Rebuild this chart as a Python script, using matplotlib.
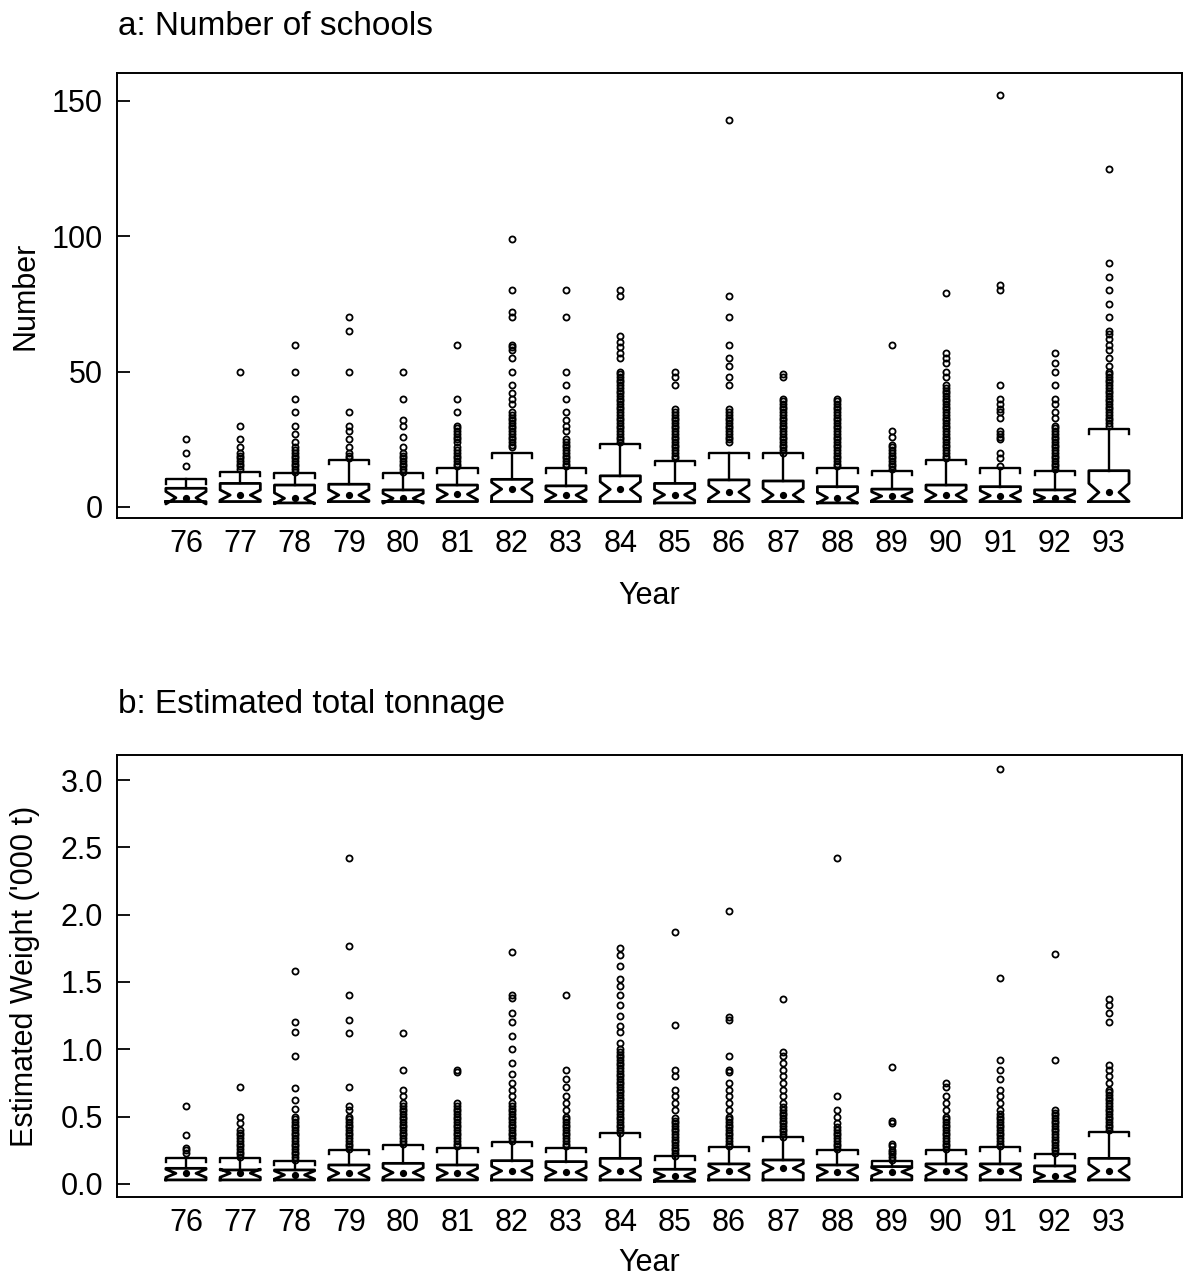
import matplotlib
matplotlib.use("Agg")
import matplotlib.pyplot as plt

plt.rcParams["font.family"] = ["Liberation Sans", "DejaVu Sans"]
plt.rcParams["font.size"] = 22

years = [76, 77, 78, 79, 80, 81, 82, 83, 84, 85, 86, 87, 88, 89, 90, 91, 92, 93]

# panel a: number of schools
a_q1 = [2, 2, 1.5, 2, 2, 2, 2, 2, 2, 1.5, 2, 2, 1.5, 2, 2, 2, 2, 2]
a_med = [3.4, 4.4, 3.2, 4.4, 3.2, 4.7, 6.6, 4.4, 6.5, 4.5, 5.5, 4.4, 3.4, 4.0, 4.4, 4.2, 3.4, 5.4]
a_q3 = [6.9, 8.7, 8.1, 8.4, 6.3, 8.1, 10.2, 7.8, 11.5, 8.7, 10.0, 9.6, 7.5, 6.6, 8.1, 7.5, 6.3, 13.4]
a_cap = [10.2, 13.0, 12.4, 17.4, 12.4, 14.3, 19.8, 14.3, 23.3, 17.1, 19.8, 19.8, 14.3, 13.3, 17.4, 14.3, 13.4, 28.7]
a_notch = [2.3, 1.9, 2.0, 2.0, 1.8, 2.0, 2.5, 2.0, 2.8, 2.0, 2.5, 2.5, 2.0, 1.6, 2.0, 1.8, 1.5, 3.3]
a_fliers = [
    [15, 20, 25],
    [14, 15, 16, 17, 18, 19, 20, 22, 25, 30, 50],
    [13, 14, 15, 16, 17, 18, 19, 20, 21, 22, 24, 27, 30, 35, 40, 50, 60],
    [18, 19, 20, 22, 25, 28, 30, 35, 50, 65, 70],
    [13, 14, 15, 16, 17, 18, 19, 20, 22, 26, 30, 32, 40, 50],
    [15, 16, 17, 18, 19, 20, 21, 22, 24, 25, 26, 27, 28, 29, 30, 35, 40, 60],
    [22, 23, 24, 25, 26, 27, 28, 29, 30, 31, 32, 33, 34, 35, 38, 40, 42, 45, 50,
     55, 58, 59, 60, 70, 72, 80, 99],
    [15, 16, 17, 18, 19, 20, 21, 22, 23, 24, 25, 28, 30, 32, 35, 40, 45, 50, 70, 80],
    [24, 25, 26, 27, 28, 29, 30, 31, 32, 33, 34, 35, 36, 37, 38, 39, 40, 41, 42,
     43, 44, 45, 46, 47, 48, 49, 50, 55, 57, 59, 61, 63, 78, 80],
    [18, 19, 20, 21, 22, 23, 24, 25, 26, 27, 28, 29, 30, 31, 32, 33, 34, 35, 36,
     45, 48, 50],
    [24, 25, 26, 27, 28, 29, 30, 31, 32, 33, 34, 35, 36, 45, 48, 52, 55, 60, 70,
     78, 143],
    [20, 21, 22, 23, 24, 25, 26, 27, 28, 29, 30, 31, 32, 33, 34, 35, 36, 37, 38,
     39, 40, 48, 49],
    [15, 16, 17, 18, 19, 20, 21, 22, 23, 24, 25, 26, 27, 28, 29, 30, 31, 32, 33,
     34, 35, 36, 37, 38, 39, 40],
    [14, 15, 16, 17, 18, 19, 20, 21, 22, 23, 26, 28, 60],
    [18, 19, 20, 21, 22, 23, 24, 25, 26, 27, 28, 29, 30, 31, 32, 33, 34, 35, 36,
     37, 38, 39, 40, 41, 42, 43, 44, 45, 48, 50, 53, 55, 57, 79],
    [15, 18, 20, 25, 26, 27, 28, 33, 35, 36, 38, 40, 45, 80, 82, 152],
    [14, 15, 16, 17, 18, 19, 20, 21, 22, 23, 24, 25, 26, 27, 28, 29, 30, 33, 35,
     38, 40, 45, 50, 53, 57],
    [30, 31, 32, 33, 34, 35, 36, 37, 38, 39, 40, 41, 42, 43, 44, 45, 46, 47, 48,
     49, 50, 52, 55, 58, 60, 62, 64, 65, 70, 75, 80, 85, 90, 125],
]

# panel b: estimated total tonnage ('000 t)
b_q1 = [0.03, 0.03, 0.03, 0.03, 0.03, 0.03, 0.03, 0.03, 0.03, 0.02, 0.03, 0.03,
        0.03, 0.03, 0.03, 0.03, 0.02, 0.03]
b_med = [0.079, 0.08, 0.067, 0.08, 0.084, 0.08, 0.097, 0.087, 0.097, 0.06, 0.099,
         0.116, 0.09, 0.09, 0.097, 0.099, 0.06, 0.097]
b_q3 = [0.116, 0.104, 0.104, 0.141, 0.153, 0.141, 0.173, 0.166, 0.19, 0.109, 0.149,
        0.178, 0.141, 0.129, 0.149, 0.149, 0.134, 0.19]
b_cap = [0.19, 0.19, 0.17, 0.25, 0.29, 0.265, 0.31, 0.27, 0.376, 0.208, 0.277,
         0.35, 0.25, 0.171, 0.25, 0.277, 0.223, 0.388]
b_notch = [0.03, 0.03, 0.03, 0.035, 0.035, 0.035, 0.035, 0.035, 0.04, 0.03, 0.035,
           0.035, 0.035, 0.03, 0.035, 0.035, 0.03, 0.05]
b_fliers = [
    [0.23, 0.25, 0.27, 0.36, 0.58],
    [0.20, 0.22, 0.24, 0.26, 0.28, 0.30, 0.32, 0.34, 0.36, 0.38, 0.40, 0.45, 0.50,
     0.72],
    [0.18, 0.20, 0.22, 0.24, 0.26, 0.28, 0.30, 0.32, 0.34, 0.36, 0.38, 0.40, 0.42,
     0.44, 0.46, 0.48, 0.50, 0.56, 0.62, 0.71, 0.95, 1.13, 1.20, 1.58],
    [0.26, 0.28, 0.30, 0.32, 0.34, 0.36, 0.38, 0.40, 0.42, 0.44, 0.46, 0.48, 0.50,
     0.55, 0.58, 0.72, 1.12, 1.22, 1.40, 1.77, 2.42],
    [0.30, 0.32, 0.34, 0.36, 0.38, 0.40, 0.42, 0.44, 0.46, 0.48, 0.50, 0.52, 0.54,
     0.56, 0.58, 0.60, 0.65, 0.70, 0.85, 1.12],
    [0.28, 0.30, 0.32, 0.34, 0.36, 0.38, 0.40, 0.42, 0.44, 0.46, 0.48, 0.50, 0.52,
     0.54, 0.56, 0.58, 0.60, 0.83, 0.85],
    [0.32, 0.34, 0.36, 0.38, 0.40, 0.42, 0.44, 0.46, 0.48, 0.50, 0.52, 0.54, 0.56,
     0.58, 0.60, 0.65, 0.70, 0.75, 0.82, 0.90, 1.00, 1.10, 1.20, 1.27, 1.38, 1.40,
     1.72],
    [0.28, 0.30, 0.32, 0.34, 0.36, 0.38, 0.40, 0.42, 0.44, 0.46, 0.48, 0.50, 0.55,
     0.60, 0.65, 0.72, 0.78, 0.85, 1.40],
    [0.38, 0.40, 0.42, 0.44, 0.46, 0.48, 0.50, 0.52, 0.54, 0.56, 0.58, 0.60, 0.62,
     0.64, 0.66, 0.68, 0.70, 0.72, 0.74, 0.76, 0.78, 0.80, 0.82, 0.84, 0.86, 0.88,
     0.90, 0.92, 0.94, 0.96, 0.98, 1.00, 1.05, 1.13, 1.17, 1.25, 1.33, 1.40, 1.47,
     1.52, 1.62, 1.70, 1.75],
    [0.21, 0.23, 0.25, 0.27, 0.29, 0.31, 0.33, 0.35, 0.37, 0.39, 0.41, 0.43, 0.45,
     0.47, 0.49, 0.55, 0.60, 0.65, 0.70, 0.80, 0.85, 1.18, 1.87],
    [0.28, 0.30, 0.32, 0.34, 0.36, 0.38, 0.40, 0.42, 0.44, 0.46, 0.48, 0.50, 0.55,
     0.60, 0.65, 0.70, 0.75, 0.83, 0.85, 0.95, 1.22, 1.24, 2.03],
    [0.35, 0.37, 0.39, 0.41, 0.43, 0.45, 0.47, 0.49, 0.51, 0.53, 0.55, 0.57, 0.60,
     0.65, 0.70, 0.75, 0.80, 0.85, 0.90, 0.95, 0.98, 1.37],
    [0.26, 0.28, 0.30, 0.32, 0.34, 0.36, 0.38, 0.40, 0.42, 0.45, 0.50, 0.55, 0.65,
     2.42],
    [0.18, 0.20, 0.22, 0.24, 0.25, 0.28, 0.30, 0.45, 0.47, 0.87],
    [0.26, 0.28, 0.30, 0.32, 0.34, 0.36, 0.38, 0.40, 0.42, 0.44, 0.46, 0.48, 0.50,
     0.55, 0.60, 0.65, 0.72, 0.75],
    [0.28, 0.30, 0.32, 0.34, 0.36, 0.38, 0.40, 0.42, 0.44, 0.46, 0.48, 0.50, 0.52,
     0.55, 0.60, 0.65, 0.70, 0.78, 0.85, 0.92, 1.53, 3.08],
    [0.23, 0.25, 0.27, 0.29, 0.31, 0.33, 0.35, 0.37, 0.39, 0.41, 0.43, 0.45, 0.47,
     0.49, 0.51, 0.53, 0.55, 0.92, 1.71],
    [0.40, 0.42, 0.44, 0.46, 0.48, 0.50, 0.52, 0.54, 0.56, 0.58, 0.60, 0.62, 0.64,
     0.66, 0.68, 0.70, 0.75, 0.80, 0.85, 0.88, 1.20, 1.27, 1.33, 1.37],
]


def build_stats(q1, med, q3, cap, notch, fliers):
    stats = []
    for i in range(len(years)):
        stats.append({
            "q1": q1[i], "med": med[i], "q3": q3[i],
            "whislo": q1[i], "whishi": cap[i],
            "cilo": med[i] - notch[i], "cihi": med[i] + notch[i],
            "fliers": fliers[i],
        })
    return stats


def draw_panel(ax, stats, tick, ylim, yticks, yfmt, ylabel):
    ax.bxp(stats, positions=years, widths=0.74, shownotches=True,
           showcaps=False,
           boxprops=dict(color="black", linewidth=2.0),
           whiskerprops=dict(color="black", linewidth=1.7),
           medianprops=dict(linewidth=0),
           flierprops=dict(marker="o", markersize=4.4, markerfacecolor="none",
                           markeredgecolor="black", markeredgewidth=1.3))
    half = 0.37
    for x, s in zip(years, stats):
        top = s["whishi"]
        ax.plot([x - half, x - half, x + half, x + half],
                [top - tick, top, top, top - tick], color="black", lw=1.7)
    ax.plot(years, [s["med"] for s in stats], "o", color="black", ms=4.2)

    ax.set_xlim(74.73, 94.34)
    ax.set_ylim(*ylim)
    ax.set_xticks(years)
    ax.set_xticklabels([str(y) for y in years])
    ax.set_yticks(yticks)
    ax.set_yticklabels([yfmt.format(v) for v in yticks])
    ax.tick_params(axis="y", direction="in", length=9, width=1.3, pad=10,
                   labelsize=22)
    ax.tick_params(axis="x", length=0, pad=8, labelsize=22)
    for sp in ax.spines.values():
        sp.set_linewidth(1.4)
    ax.set_ylabel(ylabel, fontsize=22)
    ax.yaxis.set_label_coords(-0.072, 0.5)
    ax.set_xlabel("Year", fontsize=22)


fig = plt.figure(figsize=(11.83, 12.84), dpi=100)
ax_a = fig.add_axes([0.0989, 0.5966, 0.900, 0.3466])
ax_b = fig.add_axes([0.0989, 0.0678, 0.900, 0.3442])

draw_panel(ax_a, build_stats(a_q1, a_med, a_q3, a_cap, a_notch, a_fliers),
           1.6, (-4.06, 160.3), [0, 50, 100, 150], "{:.0f}", "Number")
ax_a.xaxis.set_label_coords(0.5, -0.142)

draw_panel(ax_b, build_stats(b_q1, b_med, b_q3, b_cap, b_notch, b_fliers),
           0.03, (-0.0965, 3.186), [0.0, 0.5, 1.0, 1.5, 2.0, 2.5, 3.0], "{:.1f}",
           "Estimated Weight ('000 t)")
ax_b.xaxis.set_label_coords(0.5, -0.116)

fig.text(0.0997, 1 - 35 / 1284, "a: Number of schools", fontsize=24, va="baseline")
fig.text(0.0997, 1 - 713 / 1284, "b: Estimated total tonnage", fontsize=24,
         va="baseline")

fig.savefig("out.png", dpi=100)
